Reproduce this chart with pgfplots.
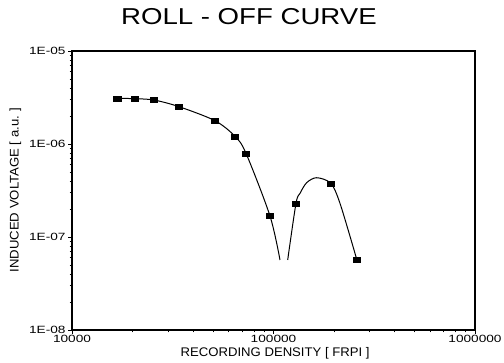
\documentclass[border=0pt]{standalone}
\usepackage{fontspec}
\setmainfont{Liberation Sans}
\newfontfamily\tickfont[FakeStretch=1.3]{Liberation Sans}
\newfontfamily\labfont[FakeStretch=1.05]{Liberation Sans}
\newfontfamily\titfont[FakeStretch=1.2]{Liberation Sans}
\usepackage{pgfplots}
\pgfplotsset{compat=1.18}
\begin{document}
\begin{tikzpicture}
\path[use as bounding box] (0,0) rectangle (504pt,363pt);
\begin{axis}[
  at={(72pt,33pt)}, anchor=south west,
  scale only axis, width=403pt, height=279pt,
  xmode=log, ymode=log,
  xmin=10000, xmax=1000000, ymin=1e-8, ymax=1e-5,
  /pgf/number format/assume math mode=true,
  axis line style={line width=1.1pt},
  xtick pos=bottom, ytick pos=left, tick align=outside,
  major tick length=4pt, minor tick length=2.5pt,
  every tick/.style={black, line width=0.7pt},
  xtick={10000,100000,1000000},
  xticklabels={10000,100000,1000000},
  ytick={1e-8,1e-7,1e-6,1e-5},
  yticklabels={1E-08,1E-07,1E-06,1E-05},
  xticklabel style={font=\tickfont\fontsize{10.5}{12}\selectfont, anchor=center, yshift=-5pt},
  yticklabel style={font=\tickfont\fontsize{10.5}{12}\selectfont, anchor=east, xshift=1pt},
  xlabel={RECORDING DENSITY [ FRPI ]},
  ylabel={INDUCED VOLTAGE [ a.u. ]},
  xlabel style={font=\labfont\fontsize{12.5}{14}\selectfont, at={(axis description cs:0.504,-0.0824)}, anchor=center},
  ylabel style={font=\labfont\fontsize{12.5}{14}\selectfont, at={(axis description cs:-0.1402,0.502)}, anchor=center},
  title={ROLL - OFF CURVE},
  title style={font=\titfont\fontsize{23}{26}\selectfont, at={(axis description cs:0.439,1.1004)}, anchor=center},
]
% fitted curve, left branch
\addplot[black, line width=1pt, smooth, no marks] coordinates {
(16780,3.10e-6) (20540,3.07e-6) (25530,2.97e-6) (33960,2.52e-6)
(51250,1.78e-6) (64400,1.21e-6) (73040,7.94e-7) (96070,1.68e-7)
(107700,5.66e-8)
};
% fitted curve, right branch
\addplot[black, line width=1pt, smooth, no marks] coordinates {
(117600,5.66e-8) (129300,2.30e-7) (135400,2.95e-7) (146100,3.84e-7)
(163800,4.34e-7) (192300,3.78e-7) (213800,2.30e-7) (258800,5.76e-8)
};
% measured points
\addplot[only marks, mark=square*, mark size=3pt, mark options={xscale=1.2, yscale=0.85, fill=black, draw=black}] coordinates {
(16780,3.10e-6) (20540,3.07e-6) (25530,2.97e-6) (33960,2.52e-6)
(51250,1.78e-6) (64400,1.21e-6) (73040,7.94e-7) (96070,1.68e-7)
(129300,2.30e-7) (192300,3.78e-7) (258800,5.76e-8)
};
\end{axis}
\end{tikzpicture}
\end{document}
